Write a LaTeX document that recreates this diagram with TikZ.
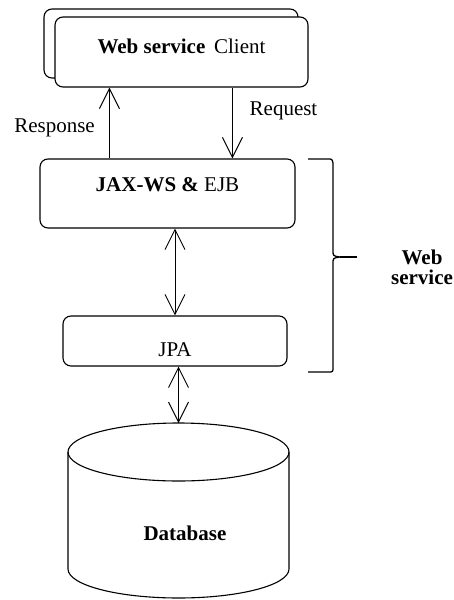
\documentclass[tikz,border=0pt]{standalone}
\usepackage{fontspec}
\setmainfont{Liberation Serif}
\usepackage{tikz}
\usetikzlibrary{arrows.meta,positioning,calc}
\tikzset{
    layer/.style={draw, rounded corners=8pt, line width=1.1pt,
                  fill=white, align=center,
                  font=\fontsize{21}{22}\selectfont},
    tag/.style={font=\fontsize{21}{22}\selectfont, align=center},
}

\begin{document}
\begin{tikzpicture}[
    x=1pt, y=-1pt,
    arr/.style={-{Straight Barb[length=20pt,width=20pt]}, line width=1pt},
    darr/.style={{Straight Barb[length=20pt,width=20pt]}-{Straight Barb[length=20pt,width=20pt]}, line width=0.9pt}
]
    \useasboundingbox (0,0) rectangle (453,600);
    % client, two stacked boxes
    \node[layer, minimum width=254pt, minimum height=69pt] (clientback) at (171,43.5) {};
    \node[layer, minimum width=253pt, minimum height=70pt] (client) at (181.5,52)
        {\rule[-11pt]{0pt}{0pt}\textbf{Web service}\, Client};
    \node[layer, minimum width=255pt, minimum height=69pt] (jax) at (167.5,193.5)
        {\rule[-18pt]{0pt}{0pt}\textbf{JAX-WS \&} EJB};
    \node[layer, minimum width=224pt, minimum height=50pt] (jpa) at (175,341)
        {\rule{0pt}{32pt}JPA};
    % database drum
    \coordinate (dbtop) at (178.5,423);
    \draw[line width=1.1pt] (68,452) -- (68,569)
        arc[start angle=180, end angle=0, x radius=110.5, y radius=29] -- (289,452);
    \draw[line width=1.1pt] (178.5,452) ellipse[x radius=110.5, y radius=29];
    \node[tag] (db) at (185,533) {\textbf{Database}};
    % calls
    \draw[arr] ([xshift=70pt]jax.north west) -- ([xshift=70pt]jax.north west |- client.south);
    \draw[arr] ([xshift=178pt]client.south west) -- ([xshift=178pt]client.south west |- jax.north);
    \node[tag] (resp) at (54.5,128) {Response};
    \node[tag] (req) at (283.5,111) {Request};
    \draw[darr] (jpa.north |- jax.south) -- (jpa.north);
    \draw[darr] (jpa.south -| dbtop) -- (dbtop);
    % brace round the service layers
    \draw[line width=1.3pt] (308,159) -- (328,159) .. controls (332,159) .. (333,163)
        -- (333,250) .. controls (333,256) .. (340,257)
        .. controls (333,258) .. (333,264) -- (333,367)
        .. controls (333,372) .. (328,372) -- (308,372);
    \draw[line width=1.3pt] (340,257) -- (357,257);
    \node[tag, font=\fontsize{21}{20}\selectfont\bfseries] (ws) at (422,267) {Web\\service};
\end{tikzpicture}
\end{document}
